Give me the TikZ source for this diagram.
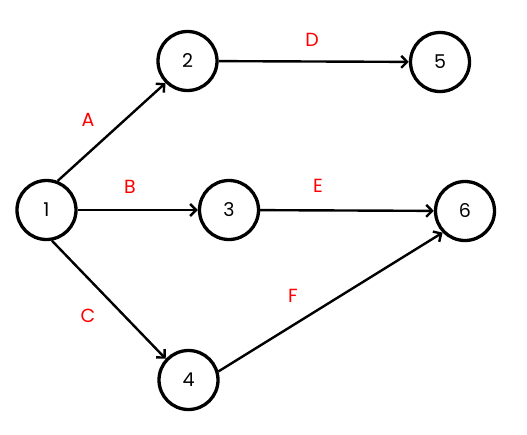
\documentclass[tikz,border=0pt]{standalone}
\usepackage{fontspec}
\setmainfont{Poppins}
\usetikzlibrary{arrows.meta}
\begin{document}
\begin{tikzpicture}[x=1pt,y=-1pt,
  ev/.style={circle,draw,line width=3.3pt,minimum size=59pt,inner sep=0pt,font=\fontsize{19}{19}\selectfont},
  act/.style={line width=2.4pt,-{Straight Barb[length=6pt,width=12pt,line width=2.4pt]}},
  lab/.style={text=red,font=\fontsize{19}{19}\selectfont}]
\useasboundingbox (0,0) rectangle (527,434);
\node[ev] (n1) at (46.5,210) {1};
\node[ev] (n2) at (187.5,61) {2};
\node[ev] (n3) at (229,210) {3};
\node[ev] (n4) at (188.5,380) {4};
\node[ev] (n5) at (440,62) {5};
\node[ev] (n6) at (465,211) {6};
\draw[act] (n1.69) -- (n2.225);
\draw[act] (n1) -- (n3);
\draw[act] (n1.280) -- (n4.137);
\draw[act] (n2) -- (n5);
\draw[act] (n3) -- (n6);
\draw[act] (n4.16) -- (n6.224);
\node[lab] (la) at (88,120) {A};
\node[lab] (lb) at (130,187) {B};
\node[lab] (lc) at (88,316) {C};
\node[lab] (ld) at (312,40) {D};
\node[lab] (le) at (318,186) {E};
\node[lab] (lf) at (293,296) {F};
\end{tikzpicture}
\end{document}
